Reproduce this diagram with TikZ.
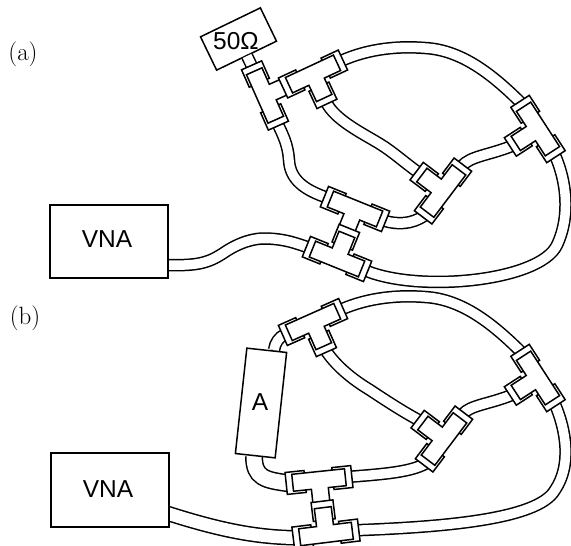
\documentclass[tikz,border=0pt]{standalone}
\usepackage{fontspec}
\newfontfamily\labfont{Liberation Sans}
\tikzset{
  px/.style={x=1pt,y=-1pt},
  cable/.style={draw=black,line width=1.5pt,double=white,double distance=9.5pt},
  widecable/.style={cable,double distance=12.5pt},
  fatcable/.style={cable,double distance=15pt},
  tline/.style={draw=black,fill=white,line width=1.5pt,line join=miter},
  devbox/.style={draw=black,fill=white,line width=1.5pt,inner sep=0pt,rectangle},
  lab/.style={font=\labfont\fontsize{24.5}{24.5}\selectfont,inner sep=0pt},
  pan/.style={font=\fontsize{25}{25}\selectfont,inner sep=0pt}
}
% sleeve pointing along +x of the local frame
\newcommand{\tsleeve}{%
  \draw[tline] (14,-8.5)--(14,-11)--(33,-11)--(33,11)--(14,11)--(14,8.5);
}
\newcommand{\tbody}{%
  \draw[tline] (-26.5,-8.5)--(26.5,-8.5)--(26.5,8.5)--(8.5,8.5)--(8.5,26.5)--(-8.5,26.5)--(-8.5,8.5)--(-26.5,8.5)--cycle;
}
\newcommand{\tports}[1]{%
  \coordinate (#1-l) at (-31,0);
  \coordinate (#1-r) at (31,0);
  \coordinate (#1-s) at (0,31);
}
% declare ports first, draw later
\newcommand{\tplace}[4]{\begin{scope}[shift={(#2,#3)},rotate=#4]\tports{#1}\end{scope}}
\newcommand{\tdraw}[4]{\begin{scope}[shift={(#2,#3)},rotate=#4]
  \tsleeve
  \begin{scope}[rotate=180]\tsleeve\end{scope}
  \begin{scope}[rotate=-90]\tsleeve\end{scope}
  \tbody\end{scope}}
\newcommand{\tdrawshort}[4]{\begin{scope}[shift={(#2,#3)},rotate=#4]
  \tsleeve
  \begin{scope}[rotate=180]\tsleeve\end{scope}
  \tbody\end{scope}}
\begin{document}
\begin{tikzpicture}[px]
\useasboundingbox (0,0) rectangle (571,546);
\tplace{ta}{265}{95.5}{114}
\tplace{tb}{313}{74}{25}
\tplace{tc}{538}{129}{-57}
\tplace{td}{443}{191}{-127}
\tplace{te}{355}{209}{-22}
\tplace{tf}{337}{259}{158}
\tplace{tg}{313}{322}{24}
\tplace{th}{538}{378}{-57}
\tplace{ti}{444}{439}{-127}
\tplace{tj}{319}{480}{6}
\tplace{tk}{326}{534}{187}
% boxes
\node[devbox,minimum width=66.5pt,minimum height=37pt,rotate=25.8] (ohm) at (238.5,39) {};
\node[lab] (ohmt) at (236,41) {50Ω};
\coordinate (vnaa-o) at (168,265);
\coordinate (vnab-o) at (168,513.5);
\coordinate (ohm-o) at (247,56);
\coordinate (ab-t) at (274,350);
\coordinate (ab-b) at (254,456);
% cables (a)
\draw[cable] (ohm-o) -- (ta-r);
\draw[cable] (vnaa-o) .. controls (200,266) and (210,262) .. (225,252) .. controls (240,242) and (255,238) .. (266,238.5) .. controls (285,239) and (295,243) .. (tf-r);
\draw[cable] (tf-l) .. controls (420,293) and (540,281) .. (557,245) .. controls (571,215) and (566,180) .. (tc-r);
\draw[cable] (te-r) .. controls (398,225) and (412,224) .. (td-r);
\draw[cable] (te-l) .. controls (305,190) and (290,180) .. (289,160) .. controls (288,145) and (283,135) .. (ta-l);
\draw[cable] (tb-s) .. controls (335,120) and (362,133) .. (380,144) .. controls (393,152) and (405,163) .. (td-s);
\draw[cable] (td-l) .. controls (470,156) and (490,155) .. (tc-s);
\draw[cable] (tb-r) .. controls (370,48) and (400,46) .. (425,48) .. controls (460,50) and (490,72) .. (tc-l);
% cables (b)
\draw[widecable] (vnab-o) .. controls (220,530) and (255,537) .. (tk-r);
\draw[cable] (tk-l) .. controls (440,527) and (538,520) .. (555,490) .. controls (572,465) and (566,430) .. (th-r);
\draw[cable] (tj-r) .. controls (385,474) and (410,472) .. (ti-r);
\draw[fatcable] (tj-l) .. controls (265,480) and (254,478) .. (ab-b);
\draw[cable] (tg-l) .. controls (279,337) and (275,343) .. (ab-t);
\draw[cable] (tg-s) .. controls (332,360) and (345,375) .. (370,390) .. controls (385,400) and (405,413) .. (ti-s);
\draw[cable] (ti-l) .. controls (470,405) and (490,404) .. (th-s);
\draw[cable] (tg-r) .. controls (370,297) and (400,295) .. (425,297) .. controls (460,299) and (490,321) .. (th-l);
\node[devbox,minimum width=40pt,minimum height=106pt,rotate=-6.2] (amod) at (261,403) {};
\node[lab] (amodt) at (260,402) {A};
\node[devbox,minimum width=118pt,minimum height=73pt] (vnaa2) at (109,241.5) {};
\node[lab] (vnaat) at (107,239) {VNA};
\node[devbox,minimum width=118pt,minimum height=74pt] (vnab2) at (110,490) {};
\node[lab] (vnabt) at (108,489) {VNA};
\node[pan] (pa) at (23,54) {(a)};
\node[pan] (pb) at (25,318) {(b)};
% T connectors
\tdrawshort{ta}{265}{95.5}{114}
\tdraw{tb}{313}{74}{25}
\tdraw{tc}{538}{129}{-57}
\tdraw{td}{443}{191}{-127}
\tdrawshort{te}{355}{209}{-22}
\tdraw{tf}{337}{259}{158}
\tdraw{tg}{313}{322}{24}
\tdraw{th}{538}{378}{-57}
\tdraw{ti}{444}{439}{-127}
\tdrawshort{tj}{319}{480}{6}
\tdraw{tk}{326}{534}{187}
\end{tikzpicture}
\end{document}
